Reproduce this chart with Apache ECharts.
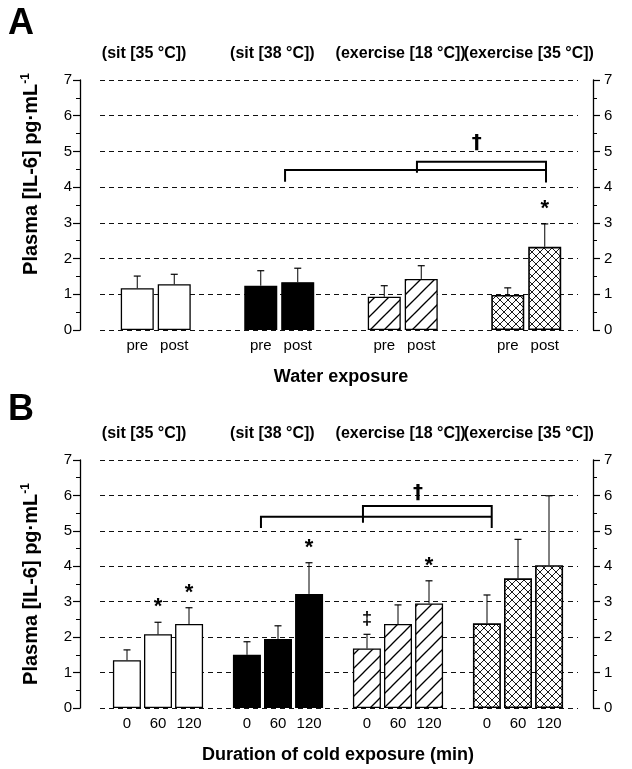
<!DOCTYPE html>
<html>
<head>
<meta charset="utf-8">
<script src="https://cdn.jsdelivr.net/npm/echarts@6/dist/echarts.min.js"></script>
<style>
  html, body { margin: 0; background: #fff; }
  #chart { width: 632px; height: 769px; }
</style>
</head>
<body>
<div id="chart"></div>
<script>
const groups = ["(sit [35 °C])", "(sit [38 °C])", "(exercise [18 °C])", "(exercise [35 °C])"];

// panel A - water exposure, pre / post
const preMean = [1.17, 1.24, 0.93, 0.98];
const preSD = [0.34, 0.42, 0.31, 0.2];
const preMark = ["", "", "", ""];
const postMean = [1.28, 1.34, 1.43, 2.33];
const postSD = [0.28, 0.39, 0.37, 0.64];
const postMark = ["", "", "", "*"];

// panel B - duration of cold exposure (min)
const min0Mean = [1.35, 1.5, 1.68, 2.39];
const min0SD = [0.29, 0.37, 0.4, 0.8];
const min0Mark = ["", "", "‡", ""];
const min60Mean = [2.08, 1.95, 2.37, 3.66];
const min60SD = [0.34, 0.37, 0.54, 1.1];
const min60Mark = ["*", "", "", ""];
const min120Mean = [2.37, 3.22, 2.95, 4.03];
const min120SD = [0.46, 0.88, 0.64, 1.96];
const min120Mark = ["*", "*", "*", ""];

// brackets: x in category units from grid left, y in pg/mL
// [left foot, lower bar, upper bar, middle foot, right foot]
const bracketAx = [1.547, 2.615, 3.66];
const bracketAy = [4.15, 4.48, 4.71, 4.4, 4.13];
const daggerA = [3.1, 5.24];
const bracketBx = [1.358, 2.208, 3.281];
const bracketBy = [5.08, 5.4, 5.7, 5.23, 5.08];
const daggerB = [2.667, 6.07];

const yTicksMax = 7;

function makePattern(kind) {
  const s = kind === "hatch" ? 14 : 8;
  const c = document.createElement("canvas");
  c.width = s;
  c.height = s;
  const g = c.getContext("2d");
  g.fillStyle = "#fff";
  g.fillRect(0, 0, s, s);
  g.strokeStyle = "#000";
  g.lineWidth = kind === "hatch" ? 1.3 : 0.9;
  const line = (x1, y1, x2, y2) => {
    g.beginPath();
    g.moveTo(x1, y1);
    g.lineTo(x2, y2);
    g.stroke();
  };
  line(-1, s + 1, s + 1, -1);
  line(-1, 1, 1, -1);
  line(s - 1, s + 1, s + 1, s - 1);
  if (kind === "cross") {
    line(-1, -1, s + 1, s + 1);
    line(s - 1, -1, s + 1, 1);
    line(-1, s - 1, 1, s + 1);
  }
  return { image: c, repeat: "repeat" };
}

const groupStyles = [
  { color: "#fff", borderColor: "#000", borderWidth: 1.3 },
  { color: "#000", borderColor: "#000", borderWidth: 1.3 },
  { color: makePattern("hatch"), borderColor: "#000", borderWidth: 1.3 },
  { color: makePattern("cross"), borderColor: "#000", borderWidth: 1.6 },
];

const seriesA = [
  { name: "pre", mean: preMean, sd: preSD, mark: preMark },
  { name: "post", mean: postMean, sd: postSD, mark: postMark },
];
const seriesB = [
  { name: "0", mean: min0Mean, sd: min0SD, mark: min0Mark },
  { name: "60", mean: min60Mean, sd: min60SD, mark: min60Mark },
  { name: "120", mean: min120Mean, sd: min120SD, mark: min120Mark },
];

function barSeries(list, xi, yi, barWidth, barGap) {
  return list.map((s) => ({
    type: "bar",
    name: s.name,
    xAxisIndex: xi,
    yAxisIndex: yi,
    barWidth: barWidth,
    barGap: barGap,
    data: s.mean.map((v, i) => ({ value: v, itemStyle: groupStyles[i] })),
    label: {
      show: true,
      position: "bottom",
      distance: 8,
      formatter: s.name,
      fontSize: 15,
      color: "#000",
    },
    silent: true,
  }));
}

function errorSeries(list, xi, yi, step) {
  const items = [];
  list.forEach((s, si) => {
    s.mean.forEach((v, g) => {
      items.push({ g: g, s: si, n: list.length, mean: v, sd: s.sd[g], mark: s.mark[g] });
    });
  });
  return {
    type: "custom",
    xAxisIndex: xi,
    yAxisIndex: yi,
    z: 5,
    silent: true,
    data: items.map((e) => [e.g, e.mean + e.sd]),
    renderItem: function (params, api) {
      const e = items[params.dataIndex];
      const top = api.coord([e.g, e.mean + e.sd]);
      const base = api.coord([e.g, e.mean]);
      const x = top[0] + (e.s - (e.n - 1) / 2) * step;
      const children = [
        { type: "line", shape: { x1: x, y1: base[1], x2: x, y2: top[1] }, style: { stroke: "#000", lineWidth: 1 } },
        { type: "line", shape: { x1: x - 3.5, y1: top[1], x2: x + 3.5, y2: top[1] }, style: { stroke: "#000", lineWidth: 1.2 } },
      ];
      if (e.mark) {
        children.push({
          type: "text",
          x: x,
          y: top[1] - 15,
          style: {
            text: e.mark,
            fontSize: e.mark === "*" ? 22 : 18,
            fontWeight: "bold",
            fontFamily: "Liberation Sans",
            align: "center",
            verticalAlign: "middle",
            fill: "#000",
          },
        });
      }
      return { type: "group", children: children };
    },
  };
}

function bracketSeries(bx, by, dagger, xi, yi) {
  return {
    type: "custom",
    xAxisIndex: xi,
    yAxisIndex: yi,
    z: 5,
    silent: true,
    data: [[0, by[1]]],
    renderItem: function (params, api) {
      const band = api.size([1, 0])[0];
      const x0 = api.coord([0, 0])[0] - band / 2;
      const px = (v) => x0 + v * band;
      const py = (v) => api.coord([0, v])[1];
      const st = { stroke: "#000", lineWidth: 2, fill: null };
      return {
        type: "group",
        children: [
          {
            type: "polyline",
            shape: { points: [[px(bx[0]), py(by[0])], [px(bx[0]), py(by[1])], [px(bx[2]), py(by[1])]] },
            style: st,
          },
          {
            type: "polyline",
            shape: {
              points: [[px(bx[1]), py(by[3])], [px(bx[1]), py(by[2])], [px(bx[2]), py(by[2])], [px(bx[2]), py(by[4])]],
            },
            style: st,
          },
          {
            type: "text",
            x: px(dagger[0]),
            y: py(dagger[1]),
            style: {
              text: "†",
              fontSize: 20,
              fontWeight: "bold",
              fontFamily: "DejaVu Sans",
              align: "center",
              verticalAlign: "middle",
              fill: "#000",
            },
          },
        ],
      };
    },
  };
}

const yName = "Plasma [IL-6] pg·mL{sup|-1}";

function panelAxes(gridBase, namePad) {
  const xs = [
    {
      gridIndex: gridBase,
      type: "category",
      position: "top",
      data: groups,
      axisLine: { show: false },
      axisTick: { show: false },
      axisLabel: { fontSize: 16, fontWeight: "bold", color: "#000", margin: 18, interval: 0 },
    },
    { gridIndex: gridBase + 1, type: "value", show: false, min: 0, max: 1 },
  ];
  const side = (pos) => ({
    gridIndex: gridBase,
    type: "value",
    position: pos,
    min: 0,
    max: yTicksMax,
    interval: 1,
    axisLine: { show: true, lineStyle: { color: "#000", width: 1.3 } },
    axisTick: { show: true, length: 7, lineStyle: { color: "#000", width: 1.2 } },
    minorTick: { show: true, splitNumber: 2, length: 4, lineStyle: { color: "#000" } },
    axisLabel: { fontSize: 15, color: "#000", margin: pos === "left" ? 8 : 11 },
    splitLine: { show: false },
  });
  const left = side("left");
  left.name = yName;
  left.nameLocation = "middle";
  left.nameRotate = 90;
  left.nameGap = 38;
  left.nameTextStyle = {
    fontSize: 20,
    fontWeight: "bold",
    color: "#000",
    padding: namePad,
    rich: { sup: { fontSize: 12, fontWeight: "bold", color: "#000", padding: [0, 0, 10, 0] } },
  };
  const ys = [
    left,
    side("right"),
    {
      gridIndex: gridBase + 1,
      type: "value",
      min: 0,
      max: yTicksMax,
      interval: 1,
      axisLine: { show: false },
      axisTick: { show: false },
      axisLabel: { show: false },
      splitLine: { show: true, lineStyle: { color: "#111", width: 1.1, type: [5, 4] } },
    },
  ];
  return { xs, ys };
}

const gridA = { top: 80, bottom: 439 };
const gridB = { top: 460, bottom: 61 };

const axA = panelAxes(0, [0, 0, 0, 62]);
const axB = panelAxes(3, [0, 0, 0, 0]);

const barAxis = (gridIndex, name) => ({
  gridIndex: gridIndex,
  type: "category",
  data: groups,
  axisLine: { show: false },
  axisTick: { show: false },
  axisLabel: { show: false },
  name: name,
  nameLocation: "middle",
  nameGap: 38,
  nameTextStyle: { fontSize: 18, fontWeight: "bold", color: "#000" },
});
const barY = (gridIndex) => ({ gridIndex: gridIndex, type: "value", show: false, min: 0, max: yTicksMax });

const chart = echarts.init(document.getElementById("chart"));
chart.setOption({
  animation: false,
  backgroundColor: "#fff",
  textStyle: { fontFamily: "Liberation Sans, Arial, sans-serif" },
  title: [
    { text: "A", left: 8, top: 6, padding: 0, textStyle: { fontSize: 36, fontWeight: 900, color: "#000" } },
    { text: "B", left: 8, top: 392, padding: 0, textStyle: { fontSize: 36, fontWeight: 900, color: "#000" } },
  ],
  grid: [
    Object.assign({ left: 80, right: 39 }, gridA),
    Object.assign({ left: 100, right: 54 }, gridA),
    Object.assign({ left: 94, right: 44 }, gridA),
    Object.assign({ left: 80, right: 39 }, gridB),
    Object.assign({ left: 100, right: 54 }, gridB),
    Object.assign({ left: 98, right: 54 }, gridB),
  ],
  xAxis: [
    axA.xs[0], axA.xs[1], barAxis(2, "Water exposure"),
    axB.xs[0], axB.xs[1], barAxis(5, "Duration of cold exposure (min)"),
  ],
  yAxis: [
    axA.ys[0], axA.ys[1], axA.ys[2], barY(2),
    axB.ys[0], axB.ys[1], axB.ys[2], barY(5),
  ],
  series: [].concat(
    barSeries(seriesA, 2, 3, 33, "12%"),
    [errorSeries(seriesA, 2, 3, 37)],
    [bracketSeries(bracketAx, bracketAy, daggerA, 2, 3)],
    barSeries(seriesB, 5, 7, 28, "11%"),
    [errorSeries(seriesB, 5, 7, 31)],
    [bracketSeries(bracketBx, bracketBy, daggerB, 5, 7)]
  ),
});
</script>
</body>
</html>
